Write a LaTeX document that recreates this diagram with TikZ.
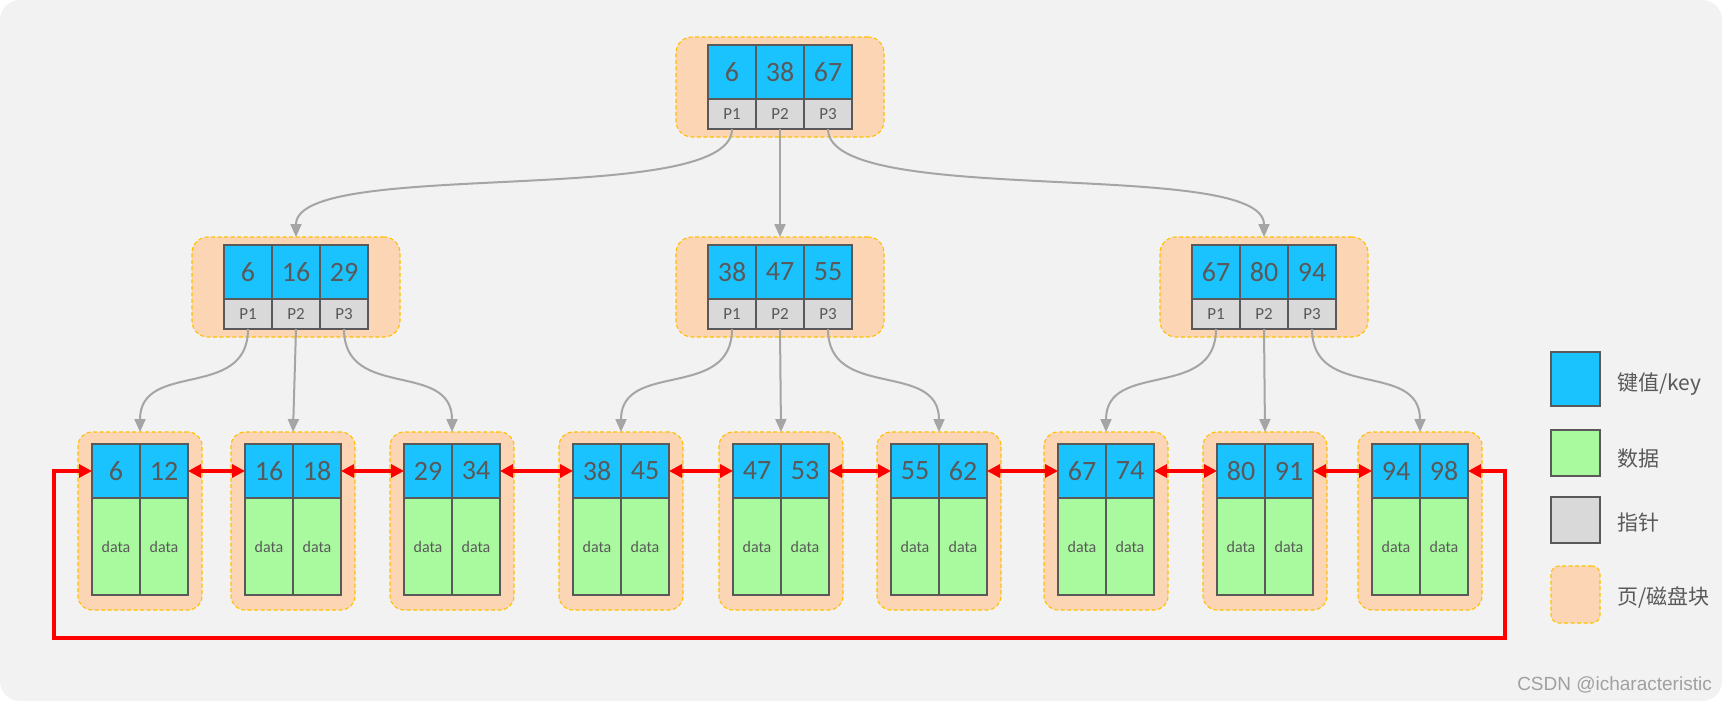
\documentclass[tikz,border=0pt]{standalone}
\usepackage{fontspec}
\setmainfont{Carlito}
\newfontfamily\cjk{Noto Sans CJK SC}
\newfontfamily\wmfont{Liberation Sans}
\usetikzlibrary{arrows.meta}
\definecolor{bgc}{HTML}{F2F2F2}
\definecolor{keyc}{HTML}{1AC3FE}
\definecolor{ptrc}{HTML}{D9D9D9}
\definecolor{datac}{HTML}{A9FA9F}
\definecolor{pagec}{HTML}{FCD5B4}
\definecolor{pageb}{HTML}{FFC000}
\definecolor{linec}{HTML}{595959}
\definecolor{txtc}{HTML}{595959}
\definecolor{arrc}{HTML}{A5A5A5}
\definecolor{redc}{HTML}{FF0000}
\definecolor{wmc}{HTML}{A0A0A0}
\tikzset{
 cell/.style={draw=linec, line width=1.2pt, inner sep=0pt, outer sep=0pt, anchor=north west, text=txtc},
 keycell/.style={cell, fill=keyc, minimum width=48pt, minimum height=54pt, font=\fontsize{28}{30}\selectfont},
 ptrcell/.style={cell, fill=ptrc, minimum width=48pt, minimum height=30pt, font=\fontsize{17}{18}\selectfont},
 datacell/.style={cell, fill=datac, minimum width=48pt, minimum height=97pt, font=\fontsize{16}{18}\selectfont},
 pagebox/.style={draw=pageb, fill=pagec, dash pattern=on 4pt off 2.5pt, line width=1.1pt, rounded corners=16pt, inner sep=0pt, outer sep=0pt, anchor=north west},
 ptrarrow/.style={draw=arrc, line width=2pt, -{Triangle[length=13pt,width=11pt]}},
 linkarrow/.style={draw=redc, line width=3.5pt, {Triangle[length=13pt,width=13pt]}-{Triangle[length=13pt,width=13pt]}},
 legtext/.style={anchor=west, text=txtc, inner sep=0pt, font=\cjk\fontsize{21}{24}\selectfont},
}
\newcommand\mkinner[6]{%
 \node[pagebox, minimum width=208pt, minimum height=100pt] (#1) at ({#2-32},{#3-8}) {};
 \node[keycell] (#1k1) at ({#2},{#3}) {#4};
 \node[keycell] (#1k2) at ({#2+48},{#3}) {#5};
 \node[keycell] (#1k3) at ({#2+96},{#3}) {#6};
 \node[ptrcell] (#1p1) at ({#2},{#3+54}) {P1};
 \node[ptrcell] (#1p2) at ({#2+48},{#3+54}) {P2};
 \node[ptrcell] (#1p3) at ({#2+96},{#3+54}) {P3};
}
\newcommand\mkleaf[4]{%
 \node[pagebox, rounded corners=14pt, minimum width=124pt, minimum height=178pt] (#1) at ({#2-14},432) {};
 \node[keycell] (#1k1) at ({#2},444) {#3};
 \node[keycell] (#1k2) at ({#2+48},444) {#4};
 \node[datacell] (#1d1) at ({#2},498) {data};
 \node[datacell] (#1d2) at ({#2+48},498) {data};
}
\begin{document}
\begin{tikzpicture}[x=1pt,y=-1pt]
\useasboundingbox (0,0) rectangle (1727,702);
\fill[white] (0,0) rectangle (1727,702);
\fill[bgc, rounded corners=20pt] (0,0) rectangle (1722,701);
% internal nodes
\mkinner{T}{708}{45}{6}{38}{67}
\mkinner{Ma}{224}{245}{6}{16}{29}
\mkinner{Mb}{708}{245}{38}{47}{55}
\mkinner{Mc}{1192}{245}{67}{80}{94}
% leaves
\mkleaf{La}{92}{6}{12}
\mkleaf{Lb}{245}{16}{18}
\mkleaf{Lc}{404}{29}{34}
\mkleaf{Ld}{573}{38}{45}
\mkleaf{Le}{733}{47}{53}
\mkleaf{Lf}{891}{55}{62}
\mkleaf{Lg}{1058}{67}{74}
\mkleaf{Lh}{1217}{80}{91}
\mkleaf{Li}{1372}{94}{98}
% pointer arrows top -> middle
\draw[ptrarrow] (Tp1.south) .. controls +(0,80) and +(0,-80) .. (Ma.north);
\draw[ptrarrow] (Tp2.south) -- (Mb.north);
\draw[ptrarrow] (Tp3.south) .. controls +(0,80) and +(0,-80) .. (Mc.north);
% pointer arrows middle -> leaves
\draw[ptrarrow] (Map1.south) .. controls +(0,72) and +(0,-72) .. (La.north);
\draw[ptrarrow] (Map2.south) -- (Lb.north);
\draw[ptrarrow] (Map3.south) .. controls +(0,72) and +(0,-72) .. (Lc.north);
\draw[ptrarrow] (Mbp1.south) .. controls +(0,72) and +(0,-72) .. (Ld.north);
\draw[ptrarrow] (Mbp2.south) -- (Le.north);
\draw[ptrarrow] (Mbp3.south) .. controls +(0,72) and +(0,-72) .. (Lf.north);
\draw[ptrarrow] (Mcp1.south) .. controls +(0,72) and +(0,-72) .. (Lg.north);
\draw[ptrarrow] (Mcp2.south) -- (Lh.north);
\draw[ptrarrow] (Mcp3.south) .. controls +(0,72) and +(0,-72) .. (Li.north);
% leaf links
\draw[linkarrow] (Lak2.east) -- (Lbk1.west);
\draw[linkarrow] (Lbk2.east) -- (Lck1.west);
\draw[linkarrow] (Lck2.east) -- (Ldk1.west);
\draw[linkarrow] (Ldk2.east) -- (Lek1.west);
\draw[linkarrow] (Lek2.east) -- (Lfk1.west);
\draw[linkarrow] (Lfk2.east) -- (Lgk1.west);
\draw[linkarrow] (Lgk2.east) -- (Lhk1.west);
\draw[linkarrow] (Lhk2.east) -- (Lik1.west);
\coordinate (loopR) at (1505,638);
\coordinate (loopL) at (54,638);
\draw[linkarrow] (Lik2.east) -| (loopR) -- (loopL) |- (Lak1.west);
% legend
\node[keycell, minimum width=49pt, minimum height=54pt] (lgk) at (1551,352) {};
\node[datacell, minimum width=49pt, minimum height=46pt] (lgd) at (1551,430) {};
\node[ptrcell, minimum width=49pt, minimum height=46pt] (lgp) at (1551,497) {};
\node[pagebox, rounded corners=8pt, minimum width=49pt, minimum height=57pt] (lgpg) at (1551,566) {};
\node[legtext] (lgkt) at (1617,384) {键值/key};
\node[legtext] (lgdt) at (1617,459) {数据};
\node[legtext] (lgpt) at (1617,523) {指针};
\node[legtext] (lgpgt) at (1617,597) {页/磁盘块};
% watermark
\node[anchor=east, inner sep=0pt, text=wmc, font=\wmfont\fontsize{19}{22}\selectfont] (wm) at (1712,685) {CSDN @icharacteristic};
\end{tikzpicture}
\end{document}
